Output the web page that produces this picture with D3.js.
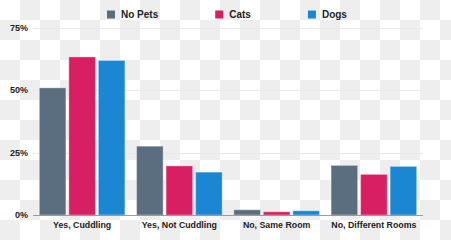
<!DOCTYPE html>
<html><head><meta charset="utf-8">
<script src="https://cdn.jsdelivr.net/npm/d3@7"></script>
<style>html,body{margin:0;padding:0;background:#fff;}svg{display:block;}</style>
</head><body>
<svg id="chart" width="451" height="240"></svg>
<script>
const categories = ["Yes, Cuddling", "Yes, Not Cuddling", "No, Same Room", "No, Different Rooms"];
const seriesNames = ["No Pets", "Cats", "Dogs"];
const noPets = [51, 27.6, 2.1, 19.9];
const cats = [63.4, 19.7, 1.3, 16.3];
const dogs = [62, 17.2, 1.7, 19.5];
const tickValues = [0, 25, 50, 75];
const tickLabels = ["0%", "25%", "50%", "75%"];
const colors = ["#5b6e7f", "#d81f64", "#1b87d3"];

const seriesValues = [noPets, cats, dogs];
const svg = d3.select("#chart");
const W = 451, H = 240;

// checkerboard background
const defs = svg.append("defs");
const pat = defs.append("pattern").attr("id","cb").attr("width",40).attr("height",40).attr("patternUnits","userSpaceOnUse");
pat.append("rect").attr("width",40).attr("height",40).attr("fill","#ffffff");
pat.append("rect").attr("x",20).attr("y",0).attr("width",20).attr("height",20).attr("fill","#eeeeee");
pat.append("rect").attr("x",0).attr("y",20).attr("width",20).attr("height",20).attr("fill","#eeeeee");
svg.append("rect").attr("width",W).attr("height",H).attr("fill","url(#cb)");

const plotLeft = 33, plotRight = 423, plotTop = 28, plotBottom = 215;
const x0 = d3.scaleBand().domain(categories).range([plotLeft, plotRight]).paddingInner(0.12).paddingOuter(0.065);
const x1 = d3.scaleBand().domain(seriesNames).range([0, x0.bandwidth()]).paddingInner(0.1);
const y = d3.scaleLinear().domain([0, 75]).range([plotBottom, plotTop]);

// gridlines
svg.append("g").selectAll("line").data(tickValues.filter(d => d > 0)).join("line")
  .attr("x1", plotLeft).attr("x2", plotRight)
  .attr("y1", d => Math.round(y(d)) + 0.5).attr("y2", d => Math.round(y(d)) + 0.5)
  .attr("stroke", "#e9e9e9").attr("stroke-width", 1);

// y labels
svg.append("g").selectAll("text").data(tickValues).join("text")
  .attr("x", 28).attr("y", d => y(d)).attr("dy", "0.35em")
  .attr("text-anchor", "end")
  .attr("font-family", "'Liberation Sans', Arial, sans-serif")
  .attr("font-weight", "bold").attr("font-size", 9).attr("fill", "#222")
  .text((d, i) => tickLabels[i]);

// bars
const groups = svg.append("g").selectAll("g").data(categories).join("g")
  .attr("transform", d => `translate(${x0(d)},0)`);
groups.selectAll("rect").data((c, ci) => seriesNames.map((s, si) => ({s, si, v: seriesValues[si][ci]}))).join("rect")
  .attr("x", d => x1(d.s)).attr("width", x1.bandwidth())
  .attr("y", d => y(d.v)).attr("height", d => y(0) - y(d.v))
  .attr("fill", d => colors[d.si])
  .attr("stroke", "#ffffff").attr("stroke-opacity", 0.35).attr("stroke-width", 1);

// baseline
svg.append("line").attr("x1", plotLeft).attr("x2", plotRight)
  .attr("y1", plotBottom + 0.5).attr("y2", plotBottom + 0.5)
  .attr("stroke", "#9a9a9a").attr("stroke-width", 1);

// category labels
svg.append("g").selectAll("text").data(categories).join("text")
  .attr("x", d => x0(d) + x0.bandwidth() / 2).attr("y", 225).attr("dy", "0.35em")
  .attr("text-anchor", "middle")
  .attr("font-family", "'Liberation Sans', Arial, sans-serif")
  .attr("font-weight", "bold").attr("font-size", 8.8).attr("fill", "#222")
  .text(d => d);

// legend
const lg = svg.append("g");
let lx = 107;
seriesNames.forEach((s, i) => {
  lg.append("rect").attr("x", lx).attr("y", 10.5).attr("width", 8).attr("height", 8).attr("fill", colors[i]);
  const t = lg.append("text").attr("x", lx + 14).attr("y", 14.5).attr("dy", "0.35em")
    .attr("font-family", "'Liberation Sans', Arial, sans-serif")
    .attr("font-weight", "bold").attr("font-size", 10).attr("fill", "#222").text(s);
  lx += 14 + t.node().getComputedTextLength() + 57;
});
</script>
</body></html>
